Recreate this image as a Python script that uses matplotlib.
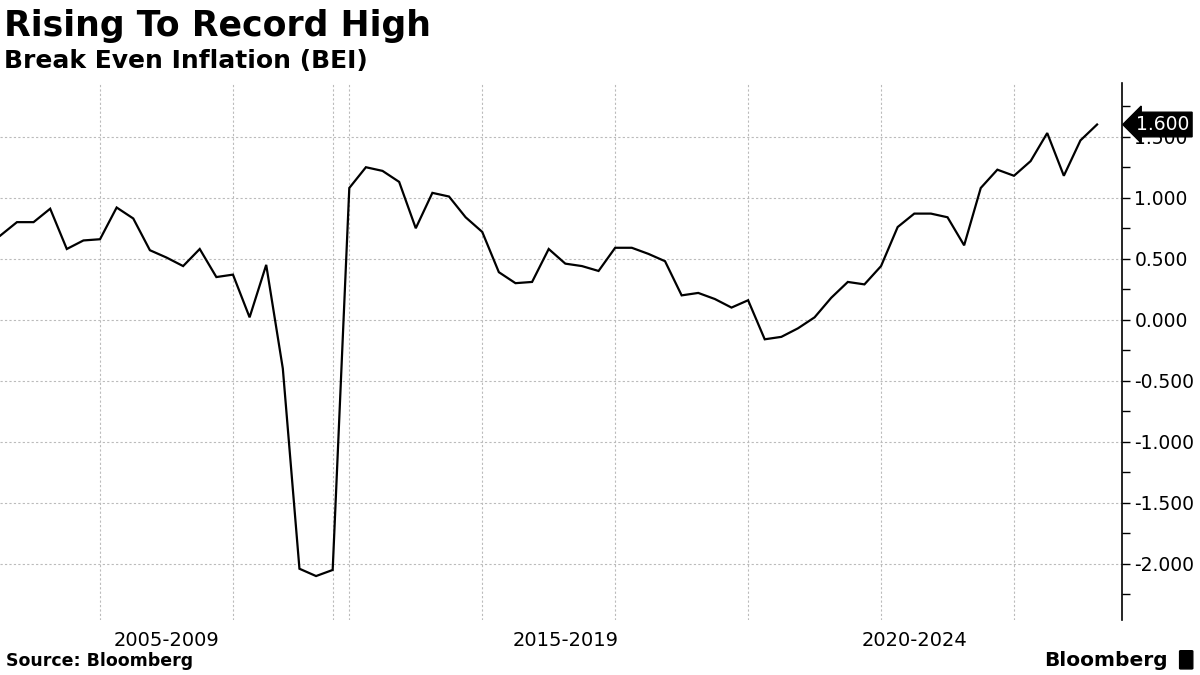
import matplotlib.pyplot as plt
import numpy as np
from matplotlib.patches import FancyBboxPatch

# break even inflation, one value per period
bei = [0.69, 0.80, 0.80, 0.91, 0.58, 0.65, 0.66, 0.92, 0.83, 0.57,
       0.51, 0.44, 0.58, 0.35, 0.37, 0.02, 0.45, -0.40, -2.04, -2.10,
       -2.05, 1.08, 1.25, 1.22, 1.13, 0.75, 1.04, 1.01, 0.84, 0.72,
       0.39, 0.30, 0.31, 0.58, 0.46, 0.44, 0.40, 0.59, 0.59, 0.54,
       0.48, 0.20, 0.22, 0.17, 0.10, 0.16, -0.16, -0.14, -0.07, 0.02,
       0.18, 0.31, 0.29, 0.44, 0.76, 0.87, 0.87, 0.84, 0.61, 1.08,
       1.23, 1.18, 1.30, 1.53, 1.18, 1.47, 1.60]
grid_pos = [6, 14, 20, 21, 29, 37, 45, 53, 61]
label_pos = [10, 34, 55]
label_txt = ["2005-2009", "2015-2019", "2020-2024"]
last_label = "1.600"

x = np.arange(len(bei))

fig = plt.figure(figsize=(12, 6.75), dpi=100)
ax = fig.add_axes([0.0, 0.0815, 0.935, 0.7955])

ax.plot(x, bei, color="black", lw=1.6, solid_joinstyle="miter", zorder=3)

ax.set_xlim(-0.02, 67.5)
ax.set_ylim(-2.46, 1.94)

# grid
for g in grid_pos:
    ax.axvline(g, color="#bbbbbb", lw=0.8, ls=(0, (2, 2)), zorder=1)
ax.set_yticks(np.arange(-2.0, 1.51, 0.5))
ax.set_yticks(np.arange(-2.25, 1.9, 0.25), minor=True)
ax.yaxis.grid(True, which="major", color="#bbbbbb", lw=0.8, ls=(0, (2, 2)))
ax.set_yticklabels(["%.3f" % v for v in np.arange(-2.0, 1.51, 0.5)])

ax.set_xticks(label_pos)
ax.set_xticklabels(label_txt)
ax.tick_params(axis="x", length=0, pad=8, labelsize=14)

ax.yaxis.tick_right()
ax.tick_params(axis="y", which="major", direction="out", length=6, width=1,
               pad=3, labelsize=13.5)
ax.tick_params(axis="y", which="minor", direction="out", length=6, width=1)

for s in ["top", "left", "bottom"]:
    ax.spines[s].set_visible(False)
ax.spines["right"].set_linewidth(1.2)

# last value tag
ax.annotate(last_label, xy=(1.0, bei[-1]), xycoords=("axes fraction", "data"),
            xytext=(10, 0), textcoords="offset points", va="center", ha="left",
            color="white", fontsize=13.5, zorder=5,
            bbox=dict(boxstyle="larrow,pad=0.15", fc="black", ec="black"))

fig.text(0.003, 0.962, "Rising To Record High", fontsize=25, fontweight="bold",
         va="center", ha="left")
fig.text(0.003, 0.91, "Break Even Inflation (BEI)", fontsize=18,
         fontweight="bold", va="center", ha="left")
fig.text(0.005, 0.02, "Source: Bloomberg", fontsize=12.5, fontweight="bold",
         va="center", ha="left")
fig.text(0.973, 0.022, "Bloomberg", fontsize=14.5, fontweight="bold",
         va="center", ha="right")
fig.patches.append(FancyBboxPatch((0.984, 0.01), 0.009, 0.025,
                                  boxstyle="round,pad=0.001", fc="black",
                                  transform=fig.transFigure, figure=fig))

fig.savefig("out.png", dpi=100)
